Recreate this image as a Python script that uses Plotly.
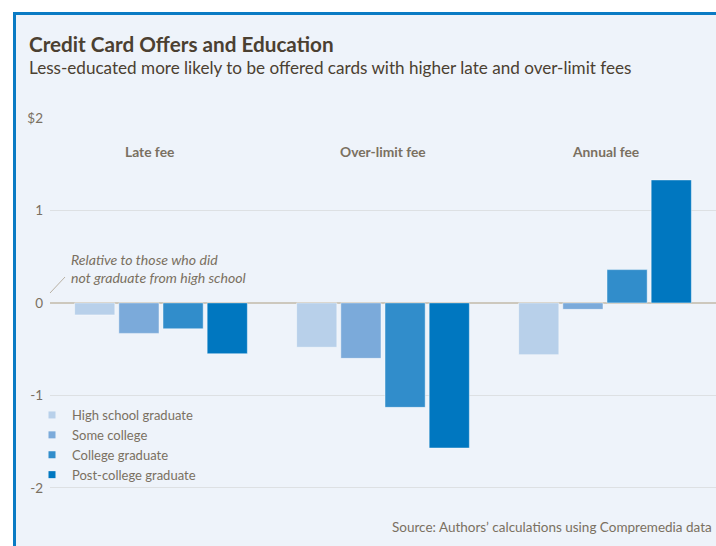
import plotly.graph_objects as go

categories = ["Late fee", "Over-limit fee", "Annual fee"]
series_names = ["High school graduate", "Some college", "College graduate", "Post-college graduate"]
hs_grad = [-0.13, -0.48, -0.56]
some_college = [-0.33, -0.60, -0.07]
college_grad = [-0.28, -1.13, 0.36]
post_college = [-0.55, -1.57, 1.33]
series_values = [hs_grad, some_college, college_grad, post_college]
colors = ["#B8D0EA", "#7BAADA", "#318DCB", "#0077C0"]
tick_vals = [-2, -1, 0, 1, 2]
tick_text = ["-2", "-1", "0", "1", "$2"]

FONT = "Source Sans Pro, Lato, sans-serif"
TXT = "#4b4031"
GRAY = "#7a7061"

W, H = 716, 546
L, R, T, B = 50, 0, 118, 12
PW, PH = W - L - R, H - T - B


def px(x):
    return (x - L) / PW


def py(y):
    return (H - B - y) / PH


fig = go.Figure()
for name, vals, col in zip(series_names, series_values, colors):
    fig.add_trace(go.Bar(
        x=categories, y=vals, name=name, marker_color=col,
        marker_line=dict(color="rgba(255,255,255,0.45)", width=1),
        showlegend=False,
    ))
    fig.add_trace(go.Scatter(
        x=[None], y=[None], mode="markers", name=name,
        marker=dict(symbol="square", size=7, color=col),
    ))

for i, c in enumerate(categories):
    fig.add_annotation(x=c, y=1.64, xref="x", yref="y", text="<b>%s</b>" % c,
                       xshift=-12 if i == 0 else 0,
                       showarrow=False, font=dict(size=13.8, color=GRAY, family=FONT))

fig.add_annotation(x=px(27), y=py(44), xref="paper", yref="paper", xanchor="left", yanchor="middle",
                   text="<b>Credit Card Offers and Education</b>", showarrow=False,
                   font=dict(size=20.7, color=TXT, family=FONT))
fig.add_annotation(x=px(27), y=py(67), xref="paper", yref="paper", xanchor="left", yanchor="middle",
                   text="Less-educated more likely to be offered cards with higher late and over-limit fees",
                   showarrow=False, font=dict(size=17.1, color=TXT, family=FONT))
fig.add_annotation(x=px(390), y=py(527), xref="paper", yref="paper", xanchor="left", yanchor="middle",
                   text="Source: Authors\u2019 calculations using Compremedia data", showarrow=False,
                   font=dict(size=13.5, color=GRAY, family=FONT))
fig.add_annotation(x=px(69), y=py(268.5), xref="paper", yref="paper", xanchor="left", yanchor="middle",
                   align="left", text="<i>Relative to those who did<br>not graduate from high school</i>",
                   showarrow=False, font=dict(size=14.1, color=GRAY, family=FONT))

shapes = [
    dict(type="rect", xref="paper", yref="paper", x0=px(16), x1=px(900), y0=py(600), y1=py(15),
         fillcolor="#EEF3FA", line_width=0, layer="below"),
    dict(type="rect", xref="paper", yref="paper", x0=px(13), x1=px(16), y0=py(600), y1=py(12),
         fillcolor="#0A7BC4", line_width=0, layer="above"),
    dict(type="rect", xref="paper", yref="paper", x0=px(13), x1=px(900), y0=py(15), y1=py(12),
         fillcolor="#0A7BC4", line_width=0, layer="above"),
    dict(type="line", xref="paper", yref="paper", x0=px(50), y0=py(293), x1=px(65), y1=py(277),
         line=dict(color="#b9b1a4", width=1)),
]

fig.update_layout(
    width=W, height=H,
    margin=dict(l=L, r=R, t=T, b=B),
    paper_bgcolor="white", plot_bgcolor="rgba(0,0,0,0)",
    barmode="group", bargap=0.204, bargroupgap=0.09,
    font=dict(family=FONT, color=GRAY, size=13),
    shapes=shapes,
    legend=dict(x=px(32), y=py(400), xanchor="left", yanchor="top", bgcolor="rgba(0,0,0,0)",
                font=dict(size=13.0, color=GRAY, family=FONT), itemwidth=30, tracegroupgap=0),
    xaxis=dict(range=[-0.5, 2.5], showticklabels=False, showgrid=False, zeroline=False, showline=False),
    yaxis=dict(range=[-2.5, 2.0], tickvals=tick_vals, ticktext=tick_text, showgrid=True,
               gridcolor="#dde0e3", gridwidth=1, zeroline=True, zerolinecolor="#cdc8bd", zerolinewidth=2,
               showline=False, ticks="", tickfont=dict(size=13.5, color=GRAY, family=FONT),
               ticklabelstandoff=6),
)

fig.write_html("out.html", config={"displayModeBar": False},
               post_script="document.body.style.margin='0';document.documentElement.style.overflow='hidden';")
